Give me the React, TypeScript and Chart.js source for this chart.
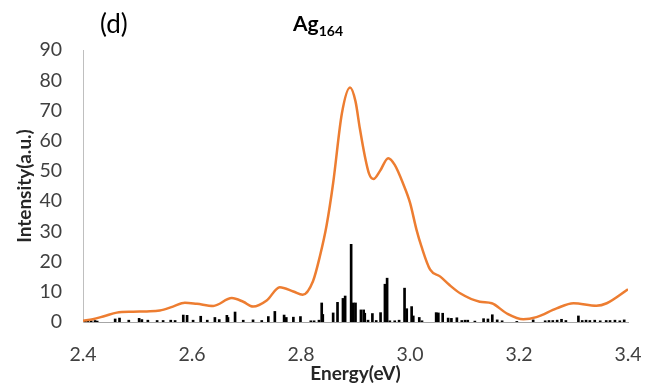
import React, { useEffect, useRef } from "react";
import { Chart, registerables } from "chart.js";

Chart.register(...registerables);

// Broadened spectrum (orange curve): energies (eV) and intensities
const curveEnergy = [
  2.4, 2.418, 2.44, 2.462, 2.492, 2.517, 2.541, 2.565, 2.587, 2.609, 2.639, 2.673,
  2.694, 2.712, 2.737, 2.761, 2.786, 2.803, 2.822, 2.835, 2.847, 2.859, 2.875, 2.89,
  2.9, 2.908, 2.917, 2.925, 2.933, 2.945, 2.96, 2.972, 2.988, 3.0, 3.012, 3.021,
  3.037, 3.055, 3.072, 3.092, 3.128, 3.15, 3.177, 3.208, 3.232, 3.269, 3.3, 3.342,
  3.361, 3.4,
];
const curveIntensity = [
  0.4, 0.9, 2.0, 3.1, 3.4, 3.5, 3.8, 5.1, 6.4, 6.0, 5.3, 7.9,
  6.7, 5.1, 7.1, 11.5, 10.1, 9.0, 13.5, 22, 32, 46, 69, 77.6,
  73, 64, 55, 49, 47.3, 50, 54.2, 52, 45.5, 39.5, 30.5, 25,
  17.3, 15.1, 12.3, 9.5, 6.7, 6.2, 2.9, 0.9, 1.6, 4.5, 6.2, 5.4,
  6.2, 10.8,
];

// Stick spectrum (black lines): transition energies and strengths
const stickEnergy = [
  2.404, 2.409, 2.415, 2.422, 2.426, 2.459, 2.467, 2.484, 2.503, 2.508, 2.519, 2.536,
  2.547, 2.561, 2.569, 2.584, 2.591, 2.602, 2.616, 2.628, 2.642, 2.65, 2.664, 2.666,
  2.679, 2.694, 2.712, 2.728, 2.74, 2.752, 2.769, 2.773, 2.786, 2.799, 2.818, 2.824,
  2.833, 2.838, 2.84, 2.859, 2.867, 2.877, 2.881, 2.892, 2.896, 2.9, 2.91, 2.915,
  2.917, 2.923, 2.931, 2.938, 2.946, 2.954, 2.958, 2.963, 2.972, 2.98, 2.99, 2.994,
  3.003, 3.006, 3.017, 3.022, 3.048, 3.052, 3.06, 3.07, 3.076, 3.086, 3.095, 3.101,
  3.106, 3.119, 3.135, 3.143, 3.151, 3.16, 3.169, 3.196, 3.226, 3.248, 3.255, 3.262,
  3.27, 3.278, 3.286, 3.309, 3.316, 3.323, 3.33, 3.339, 3.349, 3.36, 3.367, 3.376,
  3.385, 3.393,
];
const stickIntensity = [
  0.4, 0.5, 0.4, 0.5, 0.3, 1.0, 1.3, 0.6, 1.2, 0.8, 0.6, 0.5,
  0.5, 0.6, 0.5, 2.3, 2.2, 0.6, 1.9, 0.6, 1.5, 0.8, 2.2, 1.5,
  3.3, 0.6, 0.7, 0.5, 1.8, 3.5, 2.3, 1.5, 1.6, 1.8, 0.4, 0.4,
  0.6, 6.3, 2.5, 3.0, 6.5, 7.8, 8.6, 25.7, 6.3, 6.3, 4.0, 4.0,
  2.9, 0.6, 2.8, 0.5, 3.1, 12.5, 14.5, 0.4, 0.4, 0.6, 11.2, 4.4,
  5.1, 2.0, 1.5, 0.4, 3.1, 3.0, 2.9, 1.3, 1.2, 1.4, 0.5, 0.6,
  0.6, 0.3, 1.1, 1.0, 2.4, 0.7, 0.4, 0.2, 0.7, 0.4, 0.5, 0.5,
  0.6, 0.9, 0.5, 2.0, 0.5, 0.6, 0.5, 0.6, 0.4, 0.5, 0.5, 0.6,
  0.4, 0.7,
];

const xTicks = [2.4, 2.6, 2.8, 3.0, 3.2, 3.4];
const yMin = 0;
const yMax = 90;
const yStep = 10;

const FONT = "Lato, 'Open Sans', 'Liberation Sans', sans-serif";

export default function App() {
  const canvasRef = useRef<HTMLCanvasElement | null>(null);

  useEffect(() => {
    document.body.style.margin = "0";
    const canvas = canvasRef.current;
    if (!canvas) return;
    const chart = new Chart(canvas, {
      type: "bar",
      data: {
        datasets: [
          {
            type: "line",
            label: "Spectrum",
            data: curveEnergy.map((x, i) => ({ x, y: curveIntensity[i] })),
            borderColor: "#ED7D31",
            borderWidth: 2.5,
            pointRadius: 0,
            cubicInterpolationMode: "monotone",
            fill: false,
            order: 0,
          } as any,
          {
            type: "bar",
            label: "Transitions",
            data: stickEnergy.map((x, i) => ({ x, y: stickIntensity[i] })),
            backgroundColor: "#000000",
            barThickness: 2,
            order: 1,
          } as any,
        ],
      },
      options: {
        responsive: false,
        animation: false,
        layout: { padding: { left: 0, right: 18, top: 50, bottom: 0 } },
        plugins: {
          legend: { display: false },
          tooltip: { enabled: false },
        },
        scales: {
          x: {
            type: "linear",
            min: 2.4,
            max: 3.4,
            offset: false,
            afterFit: (s: any) => {
              s.height = 64;
              s.paddingLeft = 0;
              s.paddingRight = 0;
            },
            afterBuildTicks: (s: any) => {
              s.ticks = xTicks.map((v) => ({ value: v }));
            },
            grid: { display: false, drawTicks: false },
            border: { display: true, color: "#a6a6a6", width: 1 },
            ticks: {
              padding: 21,
              color: "#404040",
              font: { family: FONT, size: 19.5 },
              maxRotation: 0,
              autoSkip: false,
              callback: (v: any) => Number(v).toFixed(1),
            },
            title: {
              display: true,
              text: "Energy(eV)",
              color: "#262626",
              font: { family: FONT, size: 19, weight: "bold" },
              padding: { top: 0, bottom: 1 },
            },
          },
          y: {
            min: yMin,
            max: yMax,
            afterFit: (s: any) => {
              s.width = 83;
              s.paddingTop = 0;
              s.paddingBottom = 0;
            },
            grid: { display: false, drawTicks: false },
            border: { display: true, color: "#bfbfbf", width: 1 },
            ticks: {
              stepSize: yStep,
              padding: 21,
              color: "#404040",
              font: { family: FONT, size: 19.5 },
            },
            title: {
              display: true,
              text: "Intensity(a.u.)",
              color: "#262626",
              font: { family: FONT, size: 19, weight: "bold" },
              padding: { top: 13, bottom: 0 },
            },
          },
        },
      },
    });
    return () => chart.destroy();
  }, []);

  return (
    <div style={{ position: "relative", width: 646, height: 386, background: "#fff", fontFamily: FONT }}>
      <canvas ref={canvasRef} width={646} height={386} style={{ display: "block", width: 646, height: 386 }} />
      <div style={{ position: "absolute", left: 100, top: 9, fontSize: 26, lineHeight: "28px", color: "#000" }}>(d)</div>
      <div style={{ position: "absolute", left: 293, top: 10, fontSize: 21, lineHeight: "26px", fontWeight: "bold", color: "#000", whiteSpace: "nowrap" }}>
        Ag<span style={{ fontSize: 14, position: "relative", top: 5 }}>164</span>
      </div>
    </div>
  );
}
